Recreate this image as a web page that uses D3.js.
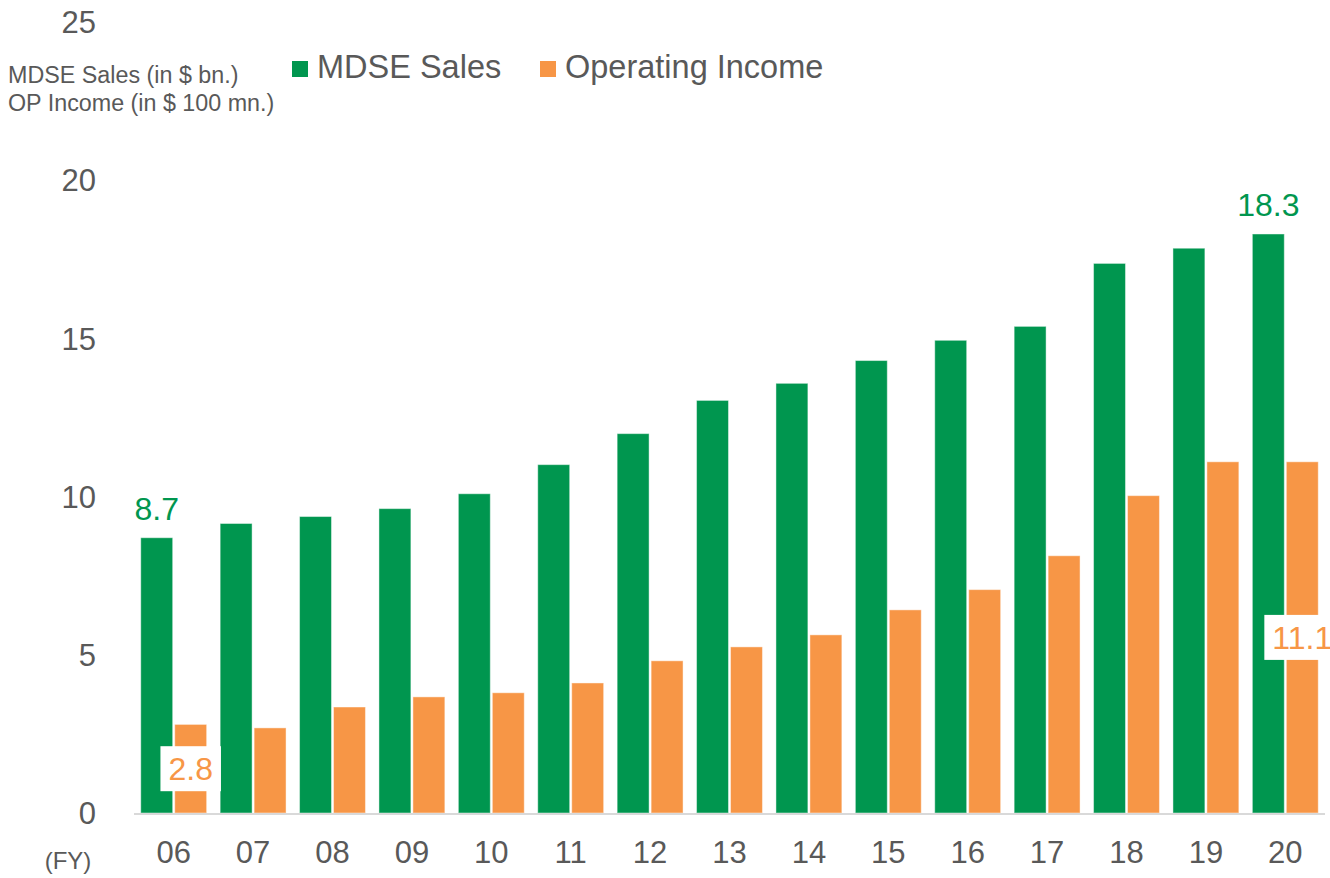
<!DOCTYPE html>
<html>
<head>
<meta charset="utf-8">
<style>
  body { margin: 0; background: #fff; }
  text { font-family: "Liberation Sans", Arial, sans-serif; }
</style>
</head>
<body>
<svg width="1330" height="878"></svg>
<script src="https://d3js.org/d3.v7.min.js"></script>
<script>

var years = ["06", "07", "08", "09", "10", "11", "12", "13", "14", "15", "16", "17", "18", "19", "20"];
var mdseSales = [8.7, 9.15, 9.37, 9.62, 10.09, 11.01, 11.99, 13.04, 13.58, 14.3, 14.94, 15.38, 17.37, 17.85, 18.3];
var opIncome = [2.8, 2.69, 3.35, 3.67, 3.8, 4.11, 4.81, 5.25, 5.63, 6.42, 7.06, 8.13, 10.03, 11.1, 11.1];
var yTicks = [0, 5, 10, 15, 20, 25];
var seriesNames = ["MDSE Sales", "Operating Income"];

var green = "#00964F", orange = "#F79646", textColor = "#595959";

var svg = d3.select("svg");

var x = d3.scaleBand().domain(years).range([134, 1325]).paddingInner(0.17).paddingOuter(0.085);
var y = d3.scaleLinear().domain([0, 25]).range([813, 22]);
var inner = d3.scaleBand().domain([0, 1]).range([0, x.bandwidth()]).paddingInner(0.06);

// y tick labels (no axis line)
svg.append("g").selectAll("text")
  .data(yTicks)
  .enter().append("text")
    .attr("x", 96)
    .attr("y", function(d) { return y(d); })
    .attr("dy", "0.36em")
    .attr("text-anchor", "end")
    .style("font-size", "31px")
    .style("fill", textColor)
    .text(function(d) { return d; });

// axis title
svg.append("text").attr("x", 8).attr("y", 83).text("MDSE Sales (in $ bn.)")
  .style("font-size", "23.3px").style("fill", textColor);
svg.append("text").attr("x", 8).attr("y", 111).text("OP Income (in $ 100 mn.)")
  .style("font-size", "23.3px").style("fill", textColor);

// bars
var groups = svg.append("g").selectAll("g")
  .data(years)
  .enter().append("g")
    .attr("transform", function(d) { return "translate(" + x(d) + ",0)"; });

groups.append("rect")
  .attr("x", inner(0))
  .attr("width", inner.bandwidth())
  .attr("y", function(d, i) { return y(mdseSales[i]); })
  .attr("height", function(d, i) { return y(0) - y(mdseSales[i]); })
  .style("fill", green)
  .style("stroke", "#fff").style("stroke-opacity", 0.45).style("stroke-width", 1);

groups.append("rect")
  .attr("x", inner(1))
  .attr("width", inner.bandwidth())
  .attr("y", function(d, i) { return y(opIncome[i]); })
  .attr("height", function(d, i) { return y(0) - y(opIncome[i]); })
  .style("fill", orange)
  .style("stroke", "#fff").style("stroke-opacity", 0.45).style("stroke-width", 1);

// x axis line
svg.append("line")
  .attr("x1", 134).attr("x2", 1325)
  .attr("y1", y(0) + 1).attr("y2", y(0) + 1)
  .style("stroke", "#D9D9D9").style("stroke-width", 2);

// x labels
svg.append("g").selectAll("text")
  .data(years)
  .enter().append("text")
    .attr("x", function(d) { return x(d) + x.bandwidth() / 2; })
    .attr("y", 863)
    .attr("text-anchor", "middle")
    .style("font-size", "31px")
    .style("fill", textColor)
    .text(function(d) { return d; });

svg.append("text").attr("x", 68).attr("y", 869).attr("text-anchor", "middle")
  .text("(FY)").style("font-size", "24px").style("fill", textColor);

// value labels: first and last year
var labelIdx = [0, years.length - 1];

labelIdx.forEach(function(i) {
  var cx = x(years[i]) + inner(0) + inner.bandwidth() / 2;
  svg.append("text")
    .attr("x", cx).attr("y", y(mdseSales[i]) - 18)
    .attr("text-anchor", "middle")
    .style("font-size", "32px").style("fill", green)
    .text(mdseSales[i].toFixed(1));

  var ox = x(years[i]) + inner(1) + inner.bandwidth() / 2;
  var oy = y(opIncome[i] / 2);
  var box = svg.append("rect").style("fill", "#fff");
  var t = svg.append("text")
    .attr("x", ox).attr("y", oy)
    .attr("dy", "0.36em")
    .attr("text-anchor", "middle")
    .style("font-size", "32px").style("fill", orange)
    .text(opIncome[i].toFixed(1));
  var w = t.node().getComputedTextLength() + 16;
  box.attr("x", ox - w / 2).attr("y", oy - 22.5)
    .attr("width", w).attr("height", 45);
});

// legend
var legend = svg.append("g").selectAll("g")
  .data(seriesNames)
  .enter().append("g")
    .attr("transform", function(d, i) { return "translate(" + [292, 540][i] + ",0)"; });

legend.append("rect")
  .attr("x", 0).attr("y", 61).attr("width", 16).attr("height", 16)
  .style("fill", function(d, i) { return [green, orange][i]; });

legend.append("text")
  .attr("x", 25).attr("y", 78)
  .style("font-size", "32.5px").style("fill", textColor)
  .text(function(d) { return d; });

</script>
</body>
</html>
